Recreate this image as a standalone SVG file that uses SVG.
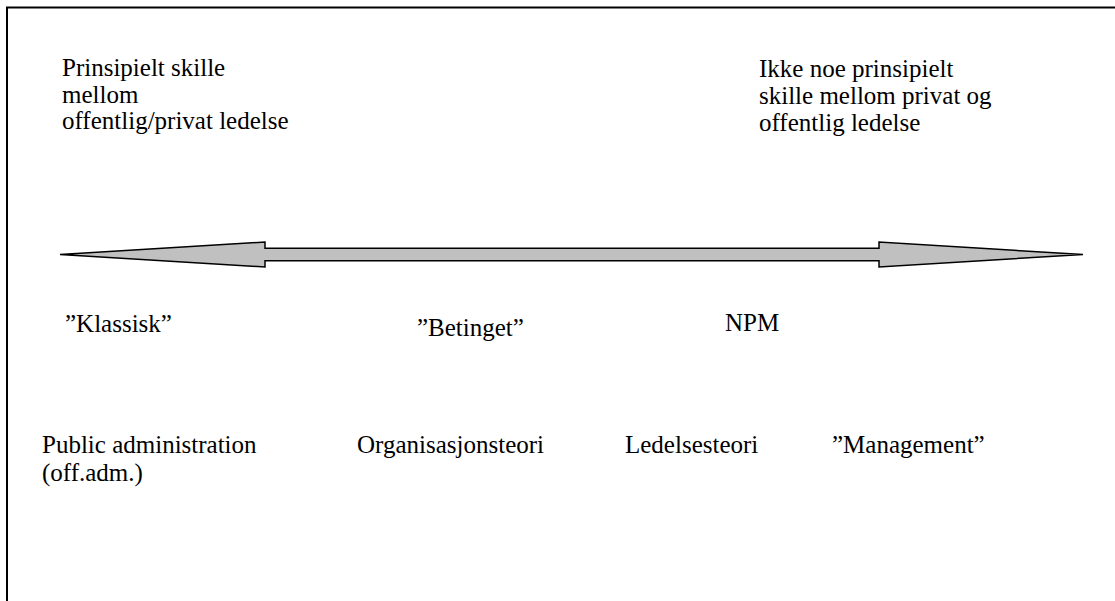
<svg xmlns="http://www.w3.org/2000/svg" width="1115" height="601" viewBox="0 0 1115 601">
<style>
.t{font-family:"Liberation Serif","Times New Roman",serif;font-size:25px;fill:#000}
.frame{fill:none;stroke:#000;stroke-width:2}
.arrow{fill:#c0c0c0;stroke:#000;stroke-width:1.5;stroke-linejoin:miter}
</style>
<rect width="1115" height="601" fill="#fff"/>
<path class="frame" d="M7,601 V7.5 H1115"/>
<g id="connectors">
<polygon id="axis" class="arrow" points="60,254.5 265,242 265,248.3 879,248.3 879,242 1083,254.5 879,267 879,260.7 265,260.7 265,267"/>
</g>
<g id="left-heading"><text class="t" x="62" y="76">Prinsipielt skille</text><text class="t" x="62" y="102.5">mellom</text><text class="t" x="62" y="129">offentlig/privat ledelse</text></g>
<g id="right-heading"><text class="t" x="759" y="77">Ikke noe prinsipielt</text><text class="t" x="759" y="104">skille mellom privat og</text><text class="t" x="759" y="131">offentlig ledelse</text></g>
<g id="klassisk"><text class="t" x="65" y="332">”Klassisk”</text></g>
<g id="betinget"><text class="t" x="417" y="336">”Betinget”</text></g>
<g id="npm"><text class="t" x="725" y="331">NPM</text></g>
<g id="public-admin"><text class="t" x="42" y="453">Public administration</text><text class="t" x="42" y="481">(off.adm.)</text></g>
<g id="organisasjonsteori"><text class="t" x="357" y="453">Organisasjonsteori</text></g>
<g id="ledelsesteori"><text class="t" x="625" y="453">Ledelsesteori</text></g>
<g id="management"><text class="t" x="832" y="453">”Management”</text></g>
</svg>
